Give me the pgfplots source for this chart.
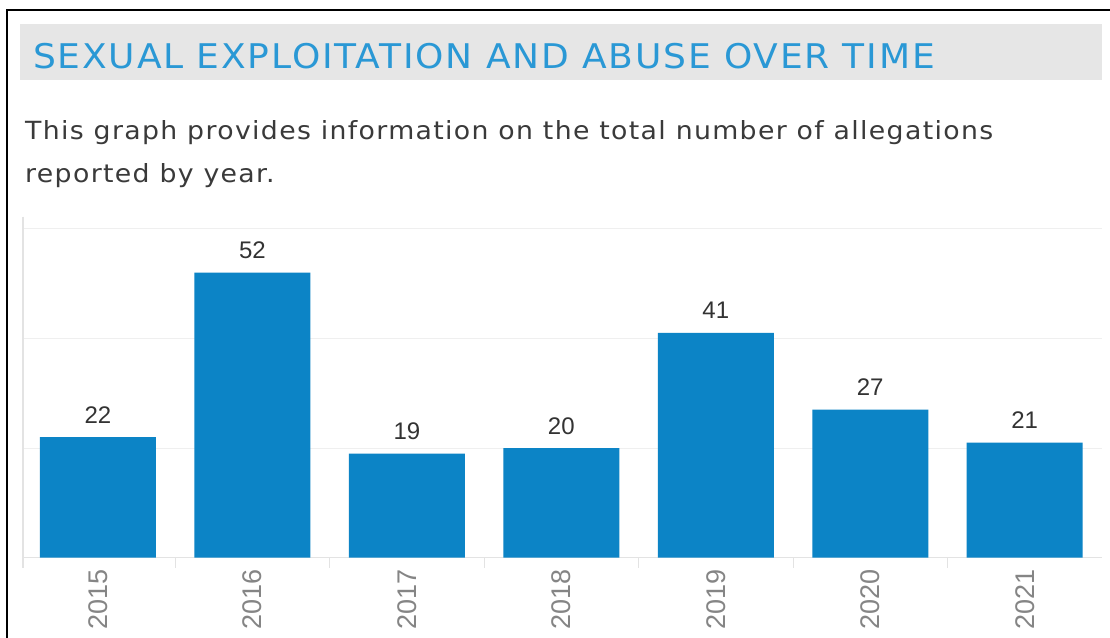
\documentclass[border=0pt]{standalone}
\usepackage{fontspec}
\setmainfont{DejaVu Sans}
\newfontfamily\numfont{Liberation Sans}
\newfontfamily\titlefont[LetterSpace=5]{DejaVu Sans}
\newfontfamily\descfont[LetterSpace=5]{DejaVu Sans}
\usepackage{pgfplots}
\pgfplotsset{compat=1.18}
\definecolor{barblue}{HTML}{0C84C6}
\definecolor{titleblue}{HTML}{2A98D5}
\definecolor{titlegray}{HTML}{E6E6E6}
\definecolor{desc}{HTML}{3A3A3A}
\definecolor{vallab}{HTML}{333333}
\definecolor{ticklab}{HTML}{858585}
\definecolor{axisgray}{HTML}{E3E3E3}
\definecolor{gridgray}{HTML}{EFEFEF}
\begin{document}
\begin{tikzpicture}
\useasboundingbox (0pt,0pt) rectangle (1110pt,-637pt);
\fill[white] (0pt,0pt) rectangle (1110pt,-637pt);
\fill[titlegray] (20pt,-24pt) rectangle (1102pt,-80pt);
\node[anchor=base west, inner sep=0pt, text=titleblue, font=\titlefont\fontsize{34}{40}\selectfont] at (33pt,-68pt) {\scalebox{1.06}[1]{SEXUAL EXPLOITATION AND ABUSE OVER TIME}};
\node[anchor=base west, inner sep=0pt, text=desc, font=\descfont\fontsize{25}{30}\selectfont] at (25pt,-139pt) {\scalebox{1.07}[1]{This graph provides information on the total number of allegations}};
\node[anchor=base west, inner sep=0pt, text=desc, font=\descfont\fontsize{25}{30}\selectfont] at (25pt,-182pt) {\scalebox{1.07}[1]{reported by year.}};
\draw[line width=2pt] (7pt,-650pt) -- (7pt,-10pt) -- (1120pt,-10pt);
\begin{axis}[
  at={(23pt,-557.7pt)}, anchor=south west,
  scale only axis, width=1079pt, height=341pt,
  xmin=-0.485, xmax=6.5, ymin=0, ymax=62.2,
  ybar, bar width=116pt,
  axis line style={draw=none},
  tick pos=left,
  xtick={0,1,2,3,4,5,6},
  xticklabels={2015,2016,2017,2018,2019,2020,2021},
  minor xtick={0.5,1.5,2.5,3.5,4.5,5.5},
  major tick length=0pt,
  minor tick length=10pt,
  tick align=outside,
  minor tick style={draw=axisgray, line width=1pt},
  ytick={20,40,60},
  yticklabels={},
  ymajorgrids,
  major grid style={draw=gridgray, line width=1pt},
  /pgf/number format/assume math mode=true,
  xticklabel style={yshift=-12pt, rotate=90, anchor=east, inner sep=0pt, text=ticklab, font=\numfont\fontsize{27}{29}\selectfont},
  nodes near coords,
  every node near coord/.append style={anchor=base, inner sep=0pt, yshift=14pt, text=vallab, font=\numfont\fontsize{24}{26}\selectfont},
  clip=false,
]
\draw[axisgray, line width=1pt] (rel axis cs:0,1) -- (rel axis cs:0,0) -- ++(0pt,-10pt);
\draw[axisgray, line width=1pt] (rel axis cs:0,0) -- (rel axis cs:1,0);
\addplot[fill=barblue, draw=none] coordinates {(0,22) (1,52) (2,19) (3,20) (4,41) (5,27) (6,21)};
\end{axis}
\end{tikzpicture}
\end{document}
